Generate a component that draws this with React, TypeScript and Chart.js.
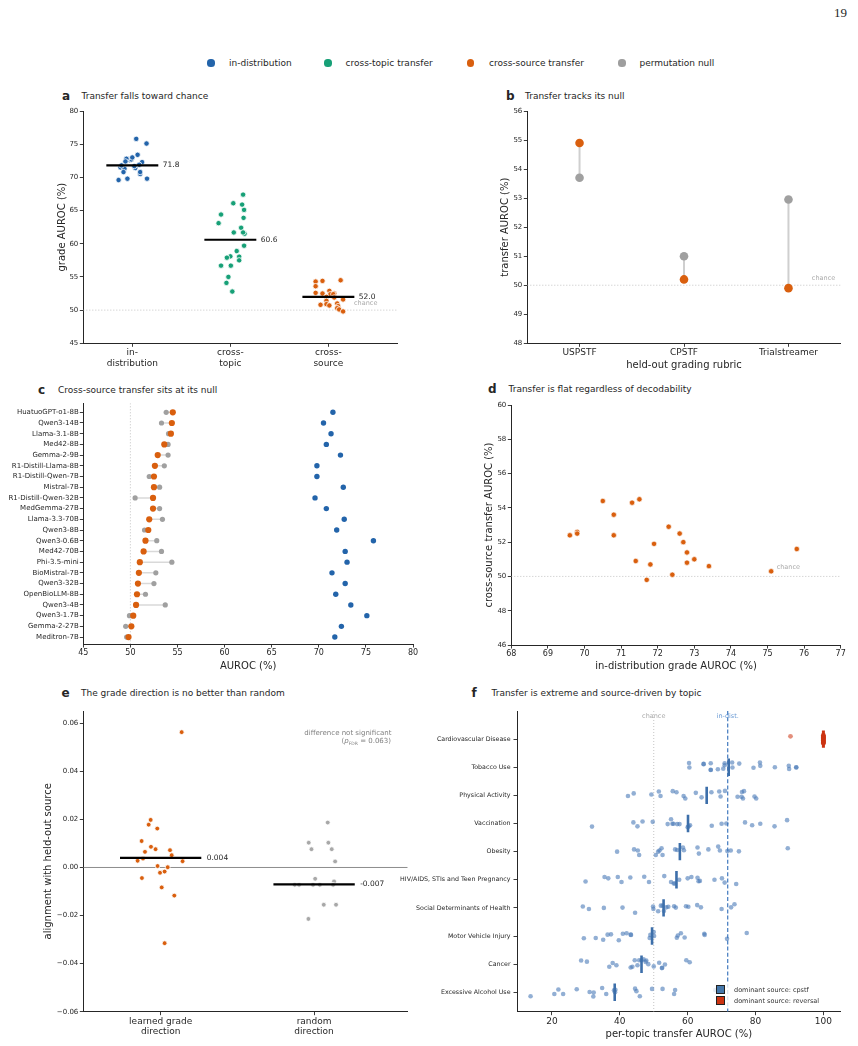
import React, { useEffect, useRef } from 'react';
import { Chart, registerables } from 'chart.js';

Chart.register(...registerables);

const FONT = "'DejaVu Sans', 'Liberation Sans', Arial, sans-serif";
Chart.defaults.font.family = FONT;

const INK = '#262626';
const BLUE = '#2364AA';
const GREEN = '#17A077';
const ORANGE = '#D95F0E';
const GRAY = '#9E9E9E';
const LIGHT = '#BDBDBD';
const CPSTF_BLUE = '#4477AA';
const REVERSAL_RED = '#CC3311';

// ---------------- data: models (panels a, c, d) ----------------
const models = ['HuatuoGPT-o1-8B', 'Qwen3-14B', 'Llama-3.1-8B', 'Med42-8B', 'Gemma-2-9B', 'R1-Distill-Llama-8B', 'R1-Distill-Qwen-7B', 'Mistral-7B', 'R1-Distill-Qwen-32B', 'MedGemma-27B', 'Llama-3.3-70B', 'Qwen3-8B', 'Qwen3-0.6B', 'Med42-70B', 'Phi-3.5-mini', 'BioMistral-7B', 'Qwen3-32B', 'OpenBioLLM-8B', 'Qwen3-4B', 'Qwen3-1.7B', 'Gemma-2-27B', 'Meditron-7B'];
const inDistAUROC = [71.5, 70.5, 71.3, 70.8, 72.3, 69.8, 69.8, 72.6, 69.6, 70.8, 72.7, 71.9, 75.8, 72.8, 73.0, 71.4, 72.8, 71.8, 73.4, 75.1, 72.4, 71.7];
const crossSourceAUROC = [54.5, 54.4, 54.3, 53.6, 52.9, 52.6, 52.5, 52.5, 52.4, 52.4, 52.0, 51.9, 51.6, 51.4, 51.0, 50.9, 50.8, 50.7, 50.6, 50.3, 50.1, 49.8];
const nullAUROC = [53.8, 53.3, 54.05, 54.0, 54.0, 53.6, 52.0, 53.1, 50.5, 53.1, 53.4, 51.5, 52.8, 53.3, 54.4, 52.7, 52.5, 51.6, 53.7, 49.9, 49.5, 49.6];
const crossTopicAUROC = [67.4, 66.1, 65.9, 65.1, 64.4, 63.9, 63.1, 62.4, 61.7, 61.5, 61.7, 59.7, 58.9, 58.1, 57.9, 58.05, 57.5, 56.7, 56.7, 55.0, 54.1, 52.8];
const jitterInDist = [-0.12, 0.08, -0.08, -0.09, 0.10, -0.05, 0.15, -0.03, -0.14, 0.08, -0.01, 0.07, 0.04, -0.055, 0.0, 0.03, -0.06, -0.11, 0.054, 0.145, -0.07, 0.02];
const jitterCrossTopic = [0.13, 0.03, 0.12, 0.14, -0.095, 0.135, -0.12, 0.11, 0.035, 0.145, 0.13, 0.14, 0.065, 0.0, -0.035, 0.09, 0.09, -0.095, 0.005, -0.02, -0.04, 0.02];
const jitterCrossSource = [0.125, -0.06, -0.13, -0.13, 0.01, -0.13, -0.06, 0.06, 0.02, 0.05, -0.02, 0.06, 0.15, -0.02, 0.09, -0.02, -0.08, 0.01, 0.10, 0.09, 0.11, 0.15];
const groupMeans = [71.8, 60.6, 52.0];
const groupLabels = [['in-', 'distribution'], ['cross-', 'topic'], ['cross-', 'source']];

// ---------------- data: panel b ----------------
const rubrics = ['USPSTF', 'CPSTF', 'Trialstreamer'];
const rubricTransfer = [54.9, 50.2, 49.9];
const rubricNull = [53.7, 51.0, 52.95];

// ---------------- data: panel e ----------------
const learnedAlign = [0.0563, 0.0198, 0.0178, 0.0162, 0.011, 0.0086, 0.0076, 0.0065, 0.0072, 0.0051, 0.0037, 0.0028, 0.0026, 0.0006, 0.0001, -0.0022, -0.0017, -0.0044, -0.0083, -0.0117, -0.0315];
const learnedJitter = [0.137, -0.065, -0.078, -0.022, -0.124, -0.063, -0.033, -0.102, 0.061, 0.072, -0.115, -0.15, 0.143, -0.02, 0.046, -0.004, 0.026, -0.122, 0.007, 0.089, 0.026];
const randomAlign = [0.0187, 0.0103, 0.0103, 0.0076, 0.0076, 0.0025, -0.0047, -0.0058, -0.0072, -0.0072, -0.0072, -0.0072, -0.0072, -0.0155, -0.0155, -0.0214];
const randomJitter = [0.089, -0.035, 0.093, -0.017, 0.115, 0.137, 0.007, 0.13, -0.126, -0.098, -0.007, 0.037, 0.124, 0.063, 0.143, -0.037];
const alignMeans = [0.004, -0.007];
const directionLabels = [['learned grade', 'direction'], ['random', 'direction']];

// ---------------- data: panel f ----------------
const topics = ['Cardiovascular Disease', 'Tobacco Use', 'Physical Activity', 'Vaccination', 'Obesity', 'HIV/AIDS, STIs and Teen Pregnancy', 'Social Determinants of Health', 'Motor Vehicle Injury', 'Cancer', 'Excessive Alcohol Use'];
const dominantSource = ['reversal', 'cpstf', 'cpstf', 'cpstf', 'cpstf', 'cpstf', 'cpstf', 'cpstf', 'cpstf', 'cpstf'];
const topicMedians = [100, 72.1, 65.6, 60.1, 57.7, 56.7, 52.9, 49.5, 46.4, 38.5];
const cardioAUROC = [90.3, 100, 100, 100, 100, 100, 100, 100, 100, 100, 100, 100, 100, 100, 100, 100, 100, 100, 100, 100, 100, 100];
const cardioJitter = [-0.10, 0.12, -0.08, 0.03, -0.14, 0.07, -0.02, 0.15, -0.11, 0.01, 0.09, -0.05, 0.13, -0.13, 0.05, -0.07, 0.10, -0.01, 0.04, -0.09, 0.14, -0.04];
const tobaccoAUROC = [60.4, 60.5, 64.7, 64.7, 66.8, 66.8, 66.8, 68.9, 70.9, 70.9, 70.5, 73.1, 73.2, 75.2, 79.4, 81.3, 81.4, 85.7, 89.8, 89.9, 92.0, 92.0];
const tobaccoJitter = [-0.15, 0.01, -0.12, -0.11, -0.14, 0.09, 0.10, 0.07, -0.14, -0.07, 0.05, -0.17, 0.01, -0.13, 0.02, -0.17, -0.05, 0.0, -0.05, 0.06, 0.0, 0.01];
const physicalAUROC = [42.4, 44.1, 49.3, 51.5, 52.0, 55.6, 56.7, 58.8, 59.3, 62.4, 64.1, 67.0, 69.3, 69.7, 71.0, 74.7, 75.9, 76.0, 76.3, 76.6, 79.7, 80.2];
const physicalJitter = [0.02, -0.07, -0.03, -0.14, 0.02, -0.15, -0.11, 0.02, 0.11, -0.09, 0.07, -0.11, -0.14, 0.04, -0.16, 0.05, 0.05, -0.12, 0.11, -0.15, 0.04, 0.11];
const vaccinationAUROC = [31.8, 44.0, 45.2, 46.7, 49.7, 54.1, 55.1, 55.5, 55.8, 56.9, 57.6, 60.0, 60.3, 60.7, 67.1, 70.0, 71.4, 76.9, 79.0, 81.4, 85.6, 89.3];
const vaccinationJitter = [0.11, -0.04, 0.1, -0.07, -0.06, 0.02, -0.15, 0.01, 0.01, 0.02, 0.02, 0.13, 0.1, 0.06, 0.08, 0.01, 0.0, -0.04, 0.06, 0.01, 0.1, -0.12];
const obesityAUROC = [39.2, 44.2, 45.3, 45.7, 50.6, 51.3, 51.7, 52.3, 52.6, 56.3, 56.9, 58.6, 58.9, 62.9, 63.3, 66.1, 69.0, 69.5, 71.7, 72.7, 75.1, 89.5];
const obesityJitter = [0.0, -0.08, -0.04, 0.12, 0.12, 0.0, -0.04, -0.12, 0.12, -0.08, -0.06, -0.15, -0.05, -0.15, 0.07, -0.08, -0.18, -0.04, -0.02, -0.04, -0.01, -0.12];
const hivAUROC = [29.9, 35.5, 36.6, 39.4, 40.5, 43.1, 47.2, 48.6, 53.1, 55.1, 55.9, 56.2, 57.5, 60.0, 61.1, 62.9, 63.2, 63.6, 67.9, 70.1, 70.9, 74.3];
const hivJitter = [0.06, -0.1, -0.05, -0.1, 0.08, -0.08, -0.11, 0.08, -0.13, 0.08, 0.13, 0.13, 0.0, -0.05, -0.1, -0.07, 0.05, 0.04, 0.0, -0.05, 0.1, 0.15];
const socialAUROC = [29.1, 30.9, 35.3, 40.8, 44.5, 49.8, 49.9, 51.3, 52.1, 52.6, 53.0, 53.7, 54.3, 56.0, 56.5, 59.5, 60.2, 62.8, 63.9, 70.0, 72.8, 73.8];
const socialJitter = [-0.05, 0.04, 0.0, -0.01, 0.17, -0.05, 0.04, 0.12, -0.08, -0.08, 0.11, -0.02, -0.04, -0.06, -0.01, -0.06, -0.04, -0.1, -0.02, 0.04, -0.02, -0.13];
const motorAUROC = [29.4, 32.9, 35.1, 36.4, 37.4, 39.7, 40.9, 42.0, 43.2, 43.3, 48.8, 49.0, 50.0, 50.1, 56.8, 57.1, 58.0, 59.1, 64.9, 65.0, 71.6, 77.4];
const motorJitter = [0.08, 0.07, 0.13, -0.05, -0.06, 0.15, -0.08, -0.1, -0.05, -0.04, 0.07, -0.04, -0.14, 0.0, 0.06, -0.02, -0.1, 0.05, -0.08, -0.04, 0.1, -0.11];
const cancerAUROC = [28.6, 30.3, 36.9, 37.9, 39.0, 43.2, 43.7, 44.4, 45.2, 45.7, 46.4, 47.0, 47.6, 47.8, 48.4, 50.0, 51.6, 52.4, 52.5, 53.3, 59.6, 60.6];
const cancerJitter = [-0.13, -0.09, 0.09, -0.04, 0.04, 0.12, 0.09, -0.14, 0.04, -0.14, -0.14, -0.17, -0.08, -0.13, 0.0, 0.08, -0.05, 0.14, 0.13, 0.01, -0.14, -0.07];
const alcoholAUROC = [13.7, 20.7, 21.9, 23.3, 27.3, 31.1, 32.2, 32.3, 34.8, 36.0, 38.3, 38.6, 38.7, 44.5, 44.9, 45.9, 49.5, 52.6, 56.0, 56.3, 68.1, 69.5];
const alcoholJitter = [0.14, 0.06, -0.1, 0.06, -0.11, -0.01, 0.15, 0.01, -0.15, 0.06, -0.07, 0.0, -0.09, -0.13, -0.04, 0.14, -0.12, -0.12, 0.06, -0.08, -0.08, -0.09];

const CHANCE = 50;
const IN_DIST_MEAN = 71.8;

const topicSeries = [cardioAUROC, tobaccoAUROC, physicalAUROC, vaccinationAUROC, obesityAUROC, hivAUROC, socialAUROC, motorAUROC, cancerAUROC, alcoholAUROC];
const topicJitters = [cardioJitter, tobaccoJitter, physicalJitter, vaccinationJitter, obesityJitter, hivJitter, socialJitter, motorJitter, cancerJitter, alcoholJitter];

// ---------------- helpers ----------------
type Pt = { x: number; y: number };
const GAP: Pt = { x: NaN, y: NaN };
const segments = (pairs: Pt[][]): Pt[] => pairs.flatMap((p, i) => (i ? [GAP, ...p] : p));
const range = (a: number, b: number, s = 1) => { const r: number[] = []; for (let v = a; v <= b + 1e-9; v += s) r.push(+v.toFixed(6)); return r; };

function pointSet(data: Pt[], color: string, radius: number, order: number, border = 'rgba(0,0,0,0)', bw = 0) {
  return { data, showLine: false, backgroundColor: color, borderColor: border, pointBackgroundColor: color, pointBorderColor: border, pointBorderWidth: bw, pointRadius: radius, pointHoverRadius: radius, order };
}
function lineSet(data: Pt[], color: string, width: number, order: number, dash: number[] = []) {
  return { data, showLine: true, borderColor: color, borderWidth: width, borderDash: dash, borderCapStyle: 'butt', pointRadius: 0, pointHoverRadius: 0, spanGaps: false, fill: false, order, backgroundColor: 'rgba(0,0,0,0)' };
}

type AxisSpec = { min: number; max: number; ticks: number[]; labels?: (string | string[])[]; fmt?: (v: number) => string; size: number; pad?: number; title?: string; reverse?: boolean };
function axis(spec: AxisSpec, vertical: boolean, thickness: number) {
  return {
    type: 'linear', bounds: 'data', min: spec.min, max: spec.max, reverse: !!spec.reverse,
    border: { display: true, color: INK, width: 1 },
    grid: { display: true, drawOnChartArea: false, drawTicks: true, tickLength: 3.5, tickWidth: 0.9, tickColor: INK },
    ticks: {
      autoSkip: false, maxRotation: 0, minRotation: 0, padding: spec.pad ?? 1.5, color: INK,
      font: { family: FONT, size: spec.size, lineHeight: 1.15 },
      callback: (v: number, i: number) => (spec.labels ? spec.labels[i] : spec.fmt ? spec.fmt(v) : String(v)),
    },
    afterBuildTicks: (s: any) => { s.ticks = spec.ticks.map((value) => ({ value })); },
    afterFit: (s: any) => { if (vertical) s.width = thickness; else s.height = thickness; },
    title: spec.title ? { display: true, text: spec.title, color: INK, font: { family: FONT, size: 10 }, padding: { top: 4, bottom: 4 } } : { display: false },
  };
}

type Note = { x: number | 'right'; y: number | 'top'; text: string; dx?: number; dy?: number; align?: CanvasTextAlign; color?: string; size?: number };
const notesPlugin = (notes: Note[]) => ({
  id: 'notes',
  afterDatasetsDraw(chart: any) {
    const { ctx, chartArea, scales } = chart;
    ctx.save();
    for (const n of notes) {
      const px = (n.x === 'right' ? chartArea.right : scales.x.getPixelForValue(n.x)) + (n.dx ?? 0);
      const py = (n.y === 'top' ? chartArea.top : scales.y.getPixelForValue(n.y)) + (n.dy ?? 0);
      ctx.font = `${n.size ?? 7.5}px ${FONT}`;
      ctx.fillStyle = n.color ?? INK;
      ctx.textAlign = n.align ?? 'left';
      ctx.textBaseline = 'middle';
      ctx.fillText(n.text, px, py);
    }
    ctx.restore();
  },
});

type Frame = { L: number; T: number; R: number; B: number; cl: number; ct: number; cr: number; cb: number };
function makeConfig(f: Frame, x: AxisSpec, y: AxisSpec, datasets: any[], notes: Note[]) {
  return {
    type: 'scatter',
    data: { datasets },
    options: {
      animation: false, responsive: false, events: [],
      layout: { padding: { left: 0, top: f.T - f.ct, right: f.cr - f.R, bottom: 0 } },
      plugins: { legend: { display: false }, tooltip: { enabled: false } },
      scales: { x: axis(x, false, f.cb - f.B), y: axis(y, true, f.L - f.cl) },
    },
    plugins: [notesPlugin(notes)],
  } as any;
}

function ChartCanvas({ frame, make }: { frame: Frame; make: () => any }) {
  const ref = useRef<HTMLCanvasElement>(null);
  useEffect(() => {
    const chart = new Chart(ref.current as HTMLCanvasElement, make());
    return () => chart.destroy();
  }, []);
  const w = frame.cr - frame.cl, h = frame.cb - frame.ct;
  return <canvas ref={ref} width={w} height={h} style={{ position: 'absolute', left: frame.cl, top: frame.ct, width: w, height: h }} />;
}

function Txt({ x, y, size, children, bold, color = INK, align = 'left', family = FONT }: any) {
  const tx = align === 'right' ? '-100%' : align === 'center' ? '-50%' : '0';
  return (
    <div style={{ position: 'absolute', left: x, top: y, transform: `translate(${tx}, -50%)`, fontFamily: family, fontSize: size, fontWeight: bold ? 'bold' : 'normal', color, whiteSpace: 'nowrap', lineHeight: 1 }}>
      {children}
    </div>
  );
}

// ---------------- frames ----------------
const frameA: Frame = { L: 83.3, T: 111, R: 397, B: 343.3, cl: 52, ct: 103, cr: 409, cb: 376 };
const frameB: Frame = { L: 527.3, T: 111, R: 840.7, B: 343.3, cl: 495, ct: 103, cr: 853, cb: 375 };
const frameC: Frame = { L: 83.3, T: 403.3, R: 413, B: 644, cl: 0, ct: 395, cr: 425, cb: 676 };
const frameD: Frame = { L: 511.3, T: 405, R: 840.7, B: 645, cl: 479, ct: 397, cr: 853, cb: 676 };
const frameE: Frame = { L: 83.3, T: 711, R: 407.7, B: 1011.7, cl: 38, ct: 703, cr: 416, cb: 1042 };
const frameF: Frame = { L: 517, T: 711, R: 840.7, B: 1011.7, cl: 380, ct: 703, cr: 853, cb: 1044 };

const chanceStyle = (pairs: Pt[][]) => lineSet(segments(pairs), LIGHT, 0.9, 9, [1, 2]);

function configA() {
  const xMin = -0.5, xMax = 2.7;
  const strips = [inDistAUROC, crossTopicAUROC, crossSourceAUROC];
  const jits = [jitterInDist, jitterCrossTopic, jitterCrossSource];
  const colors = [BLUE, GREEN, ORANGE];
  const datasets = [
    lineSet(segments(groupMeans.map((m, i) => [{ x: i - 0.265, y: m }, { x: i + 0.265, y: m }])), '#000', 2.2, 0),
    ...strips.map((vals, g) => pointSet(vals.map((v, k) => ({ x: g + jits[g][k], y: v })), colors[g], 2.7, 1, '#ffffff', 0.8)),
    chanceStyle([[{ x: xMin, y: CHANCE }, { x: xMax, y: CHANCE }]]),
  ];
  const notes: Note[] = [
    ...groupMeans.map((m, i) => ({ x: i + 0.28, y: m, dx: 3, text: m.toFixed(1), size: 7.5 })),
    { x: 2.5, y: CHANCE, dy: -6.5, text: 'chance', align: 'right' as CanvasTextAlign, color: '#AAAAAA', size: 6.5 },
  ];
  return makeConfig(frameA,
    { min: xMin, max: xMax, ticks: [0, 1, 2], labels: groupLabels, size: 9, pad: 1 },
    { min: 45, max: 80, ticks: range(45, 80, 5), size: 7, title: 'grade AUROC (%)' },
    datasets, notes);
}

function configB() {
  const datasets = [
    pointSet(rubricTransfer.map((v, i) => ({ x: i, y: v })), ORANGE, 4.3, 0),
    pointSet(rubricNull.map((v, i) => ({ x: i, y: v })), '#A0A0A0', 4.3, 1),
    lineSet(segments(rubrics.map((_, i) => [{ x: i, y: rubricNull[i] }, { x: i, y: rubricTransfer[i] }])), '#CFCFCF', 2, 2),
    chanceStyle([[{ x: -0.5, y: CHANCE }, { x: 2.5, y: CHANCE }]]),
  ];
  return makeConfig(frameB,
    { min: -0.5, max: 2.5, ticks: [0, 1, 2], labels: rubrics, size: 9, pad: 1, title: 'held-out grading rubric' },
    { min: 48, max: 56, ticks: range(48, 56, 1), size: 7, title: 'transfer AUROC (%)' },
    datasets,
    [{ x: 'right', y: CHANCE, dx: -5.5, dy: -7, text: 'chance', align: 'right', color: '#AAAAAA', size: 6.5 }]);
}

function configC() {
  const yMin = -0.84, yMax = 21.65;
  const datasets = [
    pointSet(inDistAUROC.map((v, i) => ({ x: v, y: i })), BLUE, 2.7, 0),
    pointSet(crossSourceAUROC.map((v, i) => ({ x: v, y: i })), ORANGE, 3.1, 1),
    pointSet(nullAUROC.map((v, i) => ({ x: v, y: i })), '#A0A0A0', 2.6, 2),
    lineSet(segments(models.map((_, i) => [{ x: nullAUROC[i], y: i }, { x: crossSourceAUROC[i], y: i }])), '#D9D9D9', 1.5, 3),
    chanceStyle([[{ x: CHANCE, y: yMin }, { x: CHANCE, y: yMax }]]),
  ];
  return makeConfig(frameC,
    { min: 45, max: 80, ticks: range(45, 80, 5), size: 8, pad: 1, title: 'AUROC (%)' },
    { min: yMin, max: yMax, reverse: true, ticks: models.map((_, i) => i), labels: models, size: 7, pad: 1 },
    datasets, []);
}

function configD() {
  const datasets = [
    pointSet(inDistAUROC.map((v, i) => ({ x: v, y: crossSourceAUROC[i] })), ORANGE, 2.7, 0, 'rgba(255,255,255,0.85)', 0.8),
    chanceStyle([[{ x: 68, y: CHANCE }, { x: 77, y: CHANCE }]]),
  ];
  return makeConfig(frameD,
    { min: 68, max: 77, ticks: range(68, 77, 1), size: 8, pad: 1, title: 'in-distribution grade AUROC (%)' },
    { min: 46, max: 60, ticks: range(46, 60, 2), size: 7, title: 'cross-source transfer AUROC (%)' },
    datasets,
    [{ x: 75.25, y: CHANCE, dy: -8.7, text: 'chance', color: '#AAAAAA', size: 6.5 }]);
}

function configE() {
  const xMin = -0.504, xMax = 1.61;
  const datasets = [
    lineSet(segments(alignMeans.map((m, i) => [{ x: i - 0.265, y: m }, { x: i + 0.265, y: m }])), '#000', 2.2, 0),
    pointSet(learnedAlign.map((v, k) => ({ x: 0 + learnedJitter[k], y: v })), ORANGE, 2.4, 1, '#ffffff', 0.8),
    pointSet(randomAlign.map((v, k) => ({ x: 1 + randomJitter[k], y: v })), '#A8A8A8', 2.4, 1, '#ffffff', 0.8),
    lineSet([{ x: xMin, y: 0 }, { x: xMax, y: 0 }], '#8C8C8C', 1, 5),
  ];
  const fmt = (v: number) => (v < -1e-9 ? '\u2212' : '') + Math.abs(v).toFixed(2);
  return makeConfig(frameE,
    { min: xMin, max: xMax, ticks: [0, 1], labels: directionLabels, size: 9, pad: 1 },
    { min: -0.06, max: 0.0651, ticks: [-0.06, -0.04, -0.02, 0, 0.02, 0.04, 0.06], fmt, size: 7, title: 'alignment with held-out source' },
    datasets,
    alignMeans.map((m, i) => ({ x: i + 0.3, y: m, text: m.toFixed(3), size: 7.5 })));
}

function configF() {
  const yMin = -1, yMax = 9.69;
  const ptsFor = (src: string) => topicSeries.flatMap((vals, row) => (dominantSource[row] === src ? vals.map((v, k) => ({ x: v, y: row + topicJitters[row][k] })) : []));
  const medFor = (src: string) => segments(topicMedians.map((m, row) => ({ m, row })).filter((o) => dominantSource[o.row] === src).map((o) => [{ x: o.m, y: o.row - 0.31 }, { x: o.m, y: o.row + 0.31 }]));
  const datasets = [
    lineSet(medFor('cpstf'), '#3D6FAA', 2.6, 0),
    lineSet(medFor('reversal'), REVERSAL_RED, 3, 0),
    lineSet([{ x: IN_DIST_MEAN, y: yMin }, { x: IN_DIST_MEAN, y: yMax }], '#3F78BE', 1.2, 1, [4, 2.2]),
    pointSet(ptsFor('cpstf'), 'rgba(74,122,184,0.6)', 2.3, 2),
    pointSet(ptsFor('reversal'), 'rgba(204,51,17,0.55)', 2.4, 2),
    chanceStyle([[{ x: CHANCE, y: yMin }, { x: CHANCE, y: yMax }]]),
  ];
  return makeConfig(frameF,
    { min: 9.7, max: 105.1, ticks: [20, 40, 60, 80, 100], size: 9, pad: 1, title: 'per-topic transfer AUROC (%)' },
    { min: yMin, max: yMax, reverse: true, ticks: topics.map((_, i) => i), labels: topics, size: 6.3, pad: 3 },
    datasets,
    [
      { x: CHANCE, y: 'top', dy: 5, text: 'chance', align: 'center', color: '#AAAAAA', size: 6.5 },
      { x: IN_DIST_MEAN, y: 'top', dy: 5, text: 'in-dist.', align: 'center', color: '#6A9AD4', size: 6.5 },
    ]);
}

const legendItems = [
  { label: 'in-distribution', color: BLUE, dot: 211, text: 229 },
  { label: 'cross-topic transfer', color: GREEN, dot: 328, text: 345.5 },
  { label: 'cross-source transfer', color: ORANGE, dot: 470.5, text: 489 },
  { label: 'permutation null', color: GRAY, dot: 622, text: 639.5 },
];

export default function App() {
  return (
    <div style={{ position: 'absolute', left: 0, top: 0, width: 858, height: 1046, background: '#fff', overflow: 'hidden' }}>
      <Txt x={847} y={12} size={13} align="right" family="'Liberation Serif', 'DejaVu Serif', serif">19</Txt>

      {legendItems.map((it) => (
        <React.Fragment key={it.label}>
          <div style={{ position: 'absolute', left: it.dot - 3.6, top: 63 - 3.6, width: 7.2, height: 7.2, borderRadius: '50%', background: it.color }} />
          <Txt x={it.text} y={63} size={9}>{it.label}</Txt>
        </React.Fragment>
      ))}

      <Txt x={62} y={96} size={12} bold>a</Txt>
      <Txt x={81.5} y={96} size={9}>Transfer falls toward chance</Txt>
      <Txt x={506} y={96} size={12} bold>b</Txt>
      <Txt x={525} y={96} size={9}>Transfer tracks its null</Txt>
      <Txt x={38} y={389.5} size={12} bold>c</Txt>
      <Txt x={58} y={389.5} size={9}>Cross-source transfer sits at its null</Txt>
      <Txt x={488} y={389} size={12} bold>d</Txt>
      <Txt x={508.5} y={389} size={9}>Transfer is flat regardless of decodability</Txt>
      <Txt x={61.5} y={692.5} size={12} bold>e</Txt>
      <Txt x={81} y={692.5} size={9}>The grade direction is no better than random</Txt>
      <Txt x={471.5} y={692.5} size={12} bold>f</Txt>
      <Txt x={491.5} y={692.5} size={9}>Transfer is extreme and source-driven by topic</Txt>

      <ChartCanvas frame={frameA} make={configA} />
      <ChartCanvas frame={frameB} make={configB} />
      <ChartCanvas frame={frameC} make={configC} />
      <ChartCanvas frame={frameD} make={configD} />
      <ChartCanvas frame={frameE} make={configE} />
      <ChartCanvas frame={frameF} make={configF} />

      <Txt x={391.5} y={733.3} size={7} align="right" color="#808080">difference not significant</Txt>
      <Txt x={391} y={742.3} size={7} align="right" color="#808080">
        (<i>p</i><sub style={{ fontSize: 4.5, verticalAlign: 'sub' }}>FDR</sub> = 0.063)
      </Txt>

      <div style={{ position: 'absolute', left: 712, top: 982, width: 124, height: 26, background: 'rgba(255,255,255,0.8)' }} />
      <div style={{ position: 'absolute', left: 716, top: 985, width: 9, height: 9, boxSizing: 'border-box', border: '1px solid #222', background: CPSTF_BLUE }} />
      <Txt x={734} y={989.5} size={6.5} color="#333">dominant source: cpstf</Txt>
      <div style={{ position: 'absolute', left: 716, top: 996, width: 9, height: 9, boxSizing: 'border-box', border: '1px solid #222', background: REVERSAL_RED }} />
      <Txt x={734} y={1000.5} size={6.5} color="#333">dominant source: reversal</Txt>
    </div>
  );
}
